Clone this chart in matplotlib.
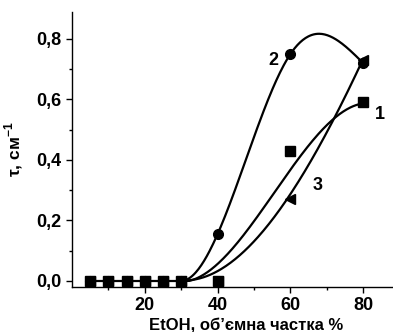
import numpy as np
import matplotlib
matplotlib.use('Agg')
import matplotlib.pyplot as plt

plt.rcParams['font.family'] = ['Liberation Sans', 'DejaVu Sans']
plt.rcParams['font.weight'] = 'bold'
plt.rcParams['axes.labelweight'] = 'bold'
plt.rcParams['mathtext.fontset'] = 'custom'
plt.rcParams['mathtext.rm'] = 'Liberation Sans:bold'
plt.rcParams['mathtext.bf'] = 'Liberation Sans:bold'

# measured points
etoh = [5, 10, 15, 20, 25, 30, 40, 60, 80]
tau1 = [0, 0, 0, 0, 0, 0, 0, 0.43, 0.59]
tau2 = [0, 0, 0, 0, 0, 0, 0.155, 0.75, 0.72]
tau3 = [0, 0, 0, 0, 0, 0, 0, 0.27, 0.73]

# fitted curves
fit_x1 = [30, 40, 50, 60, 70, 80]
fit_y1 = [0, 0.046, 0.205, 0.373, 0.506, 0.59]
fit_x2 = [30, 40, 50, 60, 68, 80]
fit_y2 = [0, 0.155, 0.476, 0.75, 0.817, 0.72]
fit_x3 = [30, 40, 50, 60, 70, 80]
fit_y3 = [0, 0.036, 0.136, 0.27, 0.506, 0.73]


def spline(xs, ys, xn):
    # cubic spline, zero slope at the first knot, natural at the end
    xs = np.asarray(xs, float)
    ys = np.asarray(ys, float)
    n = len(xs)
    h = np.diff(xs)
    A = np.zeros((n, n))
    b = np.zeros(n)
    A[0, 0] = 2 * h[0]
    A[0, 1] = h[0]
    b[0] = 6 * (ys[1] - ys[0]) / h[0]
    for i in range(1, n - 1):
        A[i, i - 1] = h[i - 1]
        A[i, i] = 2 * (h[i - 1] + h[i])
        A[i, i + 1] = h[i]
        b[i] = 6 * ((ys[i + 1] - ys[i]) / h[i] - (ys[i] - ys[i - 1]) / h[i - 1])
    A[-1, -1] = 1
    M = np.linalg.solve(A, b)
    out = np.zeros_like(xn)
    for k, x in enumerate(xn):
        i = int(np.clip(np.searchsorted(xs, x) - 1, 0, n - 2))
        t1 = xs[i + 1] - x
        t0 = x - xs[i]
        out[k] = (M[i] * t1**3 + M[i + 1] * t0**3) / (6 * h[i]) \
            + (ys[i] / h[i] - M[i] * h[i] / 6) * t1 \
            + (ys[i + 1] / h[i] - M[i + 1] * h[i] / 6) * t0
    return out


def smooth(xs, ys, xn):
    # cubic least-squares fit
    p = np.polyfit(xs, ys, 3)
    return np.polyval(p, xn)


fig = plt.figure(figsize=(3.93, 3.32), dpi=100)
ax = fig.add_axes([72 / 393, 45 / 332, 348 / 393, 275 / 332])

xx = np.linspace(30, 80, 200)
ax.plot([5, 30], [0, 0], color='black', lw=1.6)
ax.plot(xx, np.maximum(smooth(fit_x1, fit_y1, xx), 0), color='black', lw=1.6)
ax.plot(xx, spline(fit_x2, fit_y2, xx), color='black', lw=1.6)
ax.plot(xx, np.maximum(smooth(fit_x3, fit_y3, xx), 0), color='black', lw=1.6)

ax.plot(etoh, tau1, 's', color='black', ms=6.5, ls='none')
ax.plot(etoh, tau2, 'o', color='black', ms=7, ls='none')
ax.plot(etoh, tau3, '<', color='black', ms=7.5, ls='none')

ax.text(84.6, 0.55, '1', fontsize=13, ha='center', va='center')
ax.text(55.3, 0.73, '2', fontsize=13, ha='center', va='center')
ax.text(67.5, 0.315, '3', fontsize=13, ha='center', va='center')

ax.set_xlim(0, 95.6)
ax.set_ylim(-0.02, 0.889)
ax.set_xticks([20, 40, 60, 80])
ax.set_xticks([10, 30, 50, 70, 90], minor=True)
ax.set_yticks([0, 0.2, 0.4, 0.6, 0.8])
ax.set_yticks([0.1, 0.3, 0.5, 0.7], minor=True)
ax.set_yticklabels(['0,0', '0,2', '0,4', '0,6', '0,8'])
ax.tick_params(labelsize=13, width=1, length=4)
ax.tick_params(which='minor', width=1, length=2.5)
for lab in ax.get_xticklabels() + ax.get_yticklabels():
    lab.set_fontweight('bold')
for s in ['top', 'right']:
    ax.spines[s].set_visible(False)
for s in ['left', 'bottom']:
    ax.spines[s].set_linewidth(1)

ax.set_xlabel('EtOH, об’ємна частка %', fontsize=12, fontweight='bold', labelpad=2)
ax.set_ylabel(r'τ, см$^{-1}$', fontsize=12.5, fontweight='bold', labelpad=8)

fig.savefig('out.png', dpi=100)
